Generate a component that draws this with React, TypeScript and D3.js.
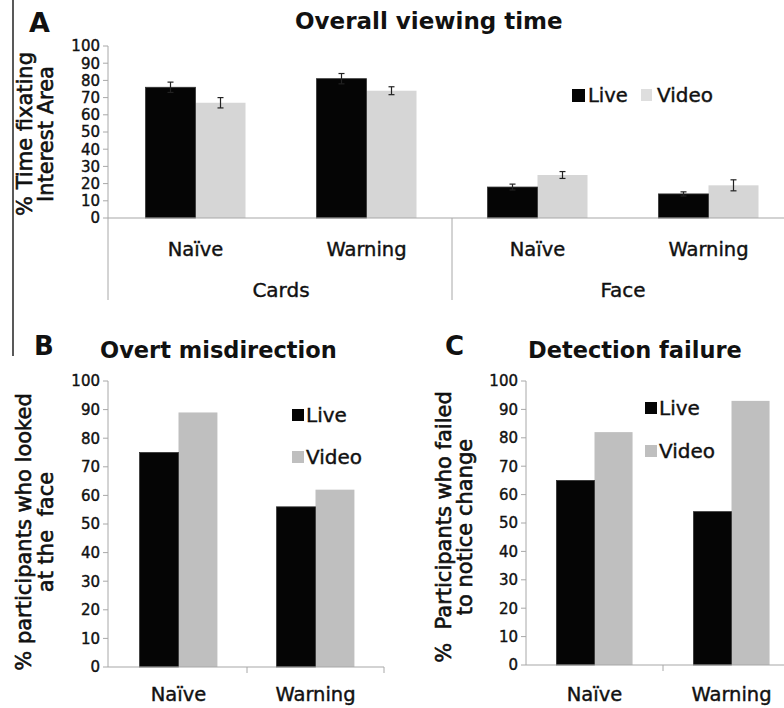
import React from "react";
import * as d3 from "d3";

// Panel A: overall viewing time
const levelsA = ["Naïve", "Warning", "Naïve", "Warning"];
const groupsA = ["Cards", "Face"];
const liveA = [76, 81, 18, 14];
const videoA = [67, 74, 25, 19];
const liveErrA = [3, 3, 1.7, 1.2];
const videoErrA = [3, 2.3, 2, 3.2];

// Panel B: overt misdirection
const levelsB = ["Naïve", "Warning"];
const liveB = [75, 56];
const videoB = [89, 62];

// Panel C: detection failure
const liveC = [65, 54];
const videoC = [82, 93];

const series = ["Live", "Video"];
const yTicks = d3.range(0, 101, 10);

const FONT = "DejaVu Sans, sans-serif";
const AXIS = "#a8a8a8";
const BLACK = "#050505";
const INK = "#111";
// slight stroke so the book weight reads as heavy as the scan
const heavy = { fill: INK, stroke: INK, strokeWidth: 0.4 };

function YAxis({ y, x, tickSize = 5 }: { y: d3.ScaleLinear<number, number>; x: number; tickSize?: number }) {
  return (
    <g>
      {yTicks.map(t => (
        <g key={t}>
          <line x1={x - tickSize} x2={x} y1={y(t)} y2={y(t)} stroke={AXIS} />
          <text x={x - 8} y={y(t)} dy="0.36em" textAnchor="end" fontSize={15} {...heavy}>
            {t}
          </text>
        </g>
      ))}
    </g>
  );
}

function RotLabel({ lines, xs, cy, size = 21 }: { lines: string[]; xs: number[]; cy: number; size?: number }) {
  return (
    <g>
      {lines.map((l, i) => (
        <text
          key={i}
          transform={`translate(${xs[i]},${cy}) rotate(-90)`}
          textAnchor="middle"
          fontSize={size}
          {...heavy}
          strokeWidth={0.6}
          style={{ whiteSpace: "pre" }}
        >
          {l}
        </text>
      ))}
    </g>
  );
}

function Legend({ x, y, gap, video, size = 20 }: { x: number; y: number; gap: number; video: string; size?: number }) {
  return (
    <g>
      <rect x={x} y={y - 13} width={12} height={12} fill={BLACK} />
      <text x={x + 14} y={y} fontSize={size} {...heavy}>Live</text>
      <rect x={x} y={y + gap - 13} width={12} height={12} fill={video} />
      <text x={x + 14} y={y + gap} fontSize={size} {...heavy}>Video</text>
    </g>
  );
}

function PanelA() {
  const y = d3.scaleLinear().domain([0, 100]).range([218, 46]);
  const x0 = d3.scaleBand<number>().domain(d3.range(levelsA.length)).range([110, 794]);
  const x1 = d3.scaleBand<string>().domain(series).range([0, x0.bandwidth()]).paddingOuter(0.71);
  const videoFill = "#d6d6d6";
  return (
    <g>
      <text x={29} y={32} fontSize={27} fontWeight="bold" fill={INK}>A</text>
      <text x={295} y={29} fontSize={23} fontWeight="bold" fill={INK}>Overall viewing time</text>
      <RotLabel lines={["% Time fixating", "Interest Area"]} xs={[32, 53]} cy={134} />
      <YAxis y={y} x={108} />
      <line x1={108} x2={108} y1={y(100)} y2={300} stroke={AXIS} />
      <line x1={452} x2={452} y1={y(0)} y2={300} stroke={AXIS} />
      {levelsA.map((lv, i) => {
        const bx = x0(i)!;
        const lx = bx + x1("Live")!;
        const vx = bx + x1("Video")!;
        const w = x1.bandwidth();
        const ec = (cx: number, v: number, e: number) => (
          <g stroke="#222" strokeWidth={1.2}>
            <line x1={cx} x2={cx} y1={y(v - e)} y2={y(v + e)} />
            <line x1={cx - 3} x2={cx + 3} y1={y(v - e)} y2={y(v - e)} />
            <line x1={cx - 3} x2={cx + 3} y1={y(v + e)} y2={y(v + e)} />
          </g>
        );
        return (
          <g key={i}>
            <rect x={vx} y={y(videoA[i])} width={w} height={y(0) - y(videoA[i])} fill={videoFill} />
            <rect x={lx} y={y(liveA[i])} width={w} height={y(0) - y(liveA[i])} fill={BLACK} stroke="#333" strokeWidth={0.8} />
            {ec(lx + w / 2, liveA[i], liveErrA[i])}
            {ec(vx + w / 2, videoA[i], videoErrA[i])}
            <text x={bx + x0.bandwidth() / 2} y={256} textAnchor="middle" fontSize={19.5} {...heavy}>{lv}</text>
          </g>
        );
      })}
      <line x1={108} x2={794} y1={y(0)} y2={y(0)} stroke={AXIS} strokeWidth={1.2} />
      {groupsA.map((g, i) => (
        <text key={g} x={110 + (i + 0.5) * x0.bandwidth() * 2} y={297} textAnchor="middle" fontSize={20} {...heavy}>
          {g}
        </text>
      ))}
      <rect x={572} y={89} width={13} height={13} fill={BLACK} />
      <text x={588} y={102} fontSize={19.5} {...heavy}>Live</text>
      <rect x={641} y={89} width={11} height={12} fill="#dedede" />
      <text x={657} y={102} fontSize={20} {...heavy}>Video</text>
    </g>
  );
}

function SmallPanel({
  letter, letterX, title, titleX, ylines, ylineX, ycy, axisX, y0, y100, range, live, video, padOuter, legendX, legendY, legendGap, xEnd,
}: {
  letter: string; letterX: number; title: string; titleX: number; ylines: string[]; ylineX: number[]; ycy: number;
  axisX: number; y0: number; y100: number; range: [number, number]; live: number[]; video: number[]; padOuter: number;
  legendX: number; legendY: number; legendGap: number; xEnd: number;
}) {
  const y = d3.scaleLinear().domain([0, 100]).range([y0, y100]);
  const x0 = d3.scaleBand<number>().domain(d3.range(levelsB.length)).range(range);
  const x1 = d3.scaleBand<string>().domain(series).range([0, x0.bandwidth()]).paddingOuter(padOuter);
  const videoFill = "#bfbfbf";
  return (
    <g>
      <text x={letterX} y={355} fontSize={26} fontWeight="bold" fill={INK}>{letter}</text>
      <text x={titleX} y={358} fontSize={22.5} fontWeight="bold" fill={INK}>{title}</text>
      <RotLabel lines={ylines} xs={ylineX} cy={ycy} />
      <YAxis y={y} x={axisX} />
      <line x1={axisX} x2={axisX} y1={y(100)} y2={y(0)} stroke={AXIS} />
      {levelsB.map((lv, i) => {
        const bx = x0(i)!;
        const w = x1.bandwidth();
        return (
          <g key={i}>
            <rect x={bx + x1("Video")!} y={y(video[i])} width={w} height={y(0) - y(video[i])} fill={videoFill} />
            <rect x={bx + x1("Live")!} y={y(live[i])} width={w} height={y(0) - y(live[i])} fill={BLACK} stroke="#333" strokeWidth={0.8} />
            <line x1={bx + x0.bandwidth()} x2={bx + x0.bandwidth()} y1={y(0)} y2={y(0) + 6} stroke={AXIS} />
            <text x={bx + x0.bandwidth() / 2} y={701} textAnchor="middle" fontSize={19.5} {...heavy}>{lv}</text>
          </g>
        );
      })}
      <line x1={axisX} x2={xEnd} y1={y(0)} y2={y(0)} stroke={AXIS} strokeWidth={1.2} />
      <Legend x={legendX} y={legendY} gap={legendGap} video={videoFill} />
    </g>
  );
}

export default function App() {
  return (
    <svg
      width={784}
      height={708}
      style={{ position: "absolute", left: 0, top: 0, background: "#fff" }}
      fontFamily={FONT}
    >
      <rect width={784} height={708} fill="#fff" />
      <line x1={13} x2={13} y1={0} y2={356} stroke="#222" strokeWidth={1.5} />
      <PanelA />
      <SmallPanel
        letter="B" letterX={34} title="Overt misdirection" titleX={100}
        ylines={["% participants who looked", "at the  face"]} ylineX={[31, 53]} ycy={532}
        axisX={108} y0={667} y100={381} range={[110, 384]} live={liveB} video={videoB} padOuter={0.76}
        legendX={292} legendY={422} legendGap={42} xEnd={384}
      />
      <SmallPanel
        letter="C" letterX={445} title="Detection failure" titleX={528}
        ylines={["%  Participants who failed", "to notice change"]} ylineX={[451, 472]} ycy={527}
        axisX={526} y0={665} y100={381} range={[526, 800]} live={liveC} video={videoC} padOuter={0.8}
        legendX={645} legendY={415} legendGap={43} xEnd={784}
      />
    </svg>
  );
}
